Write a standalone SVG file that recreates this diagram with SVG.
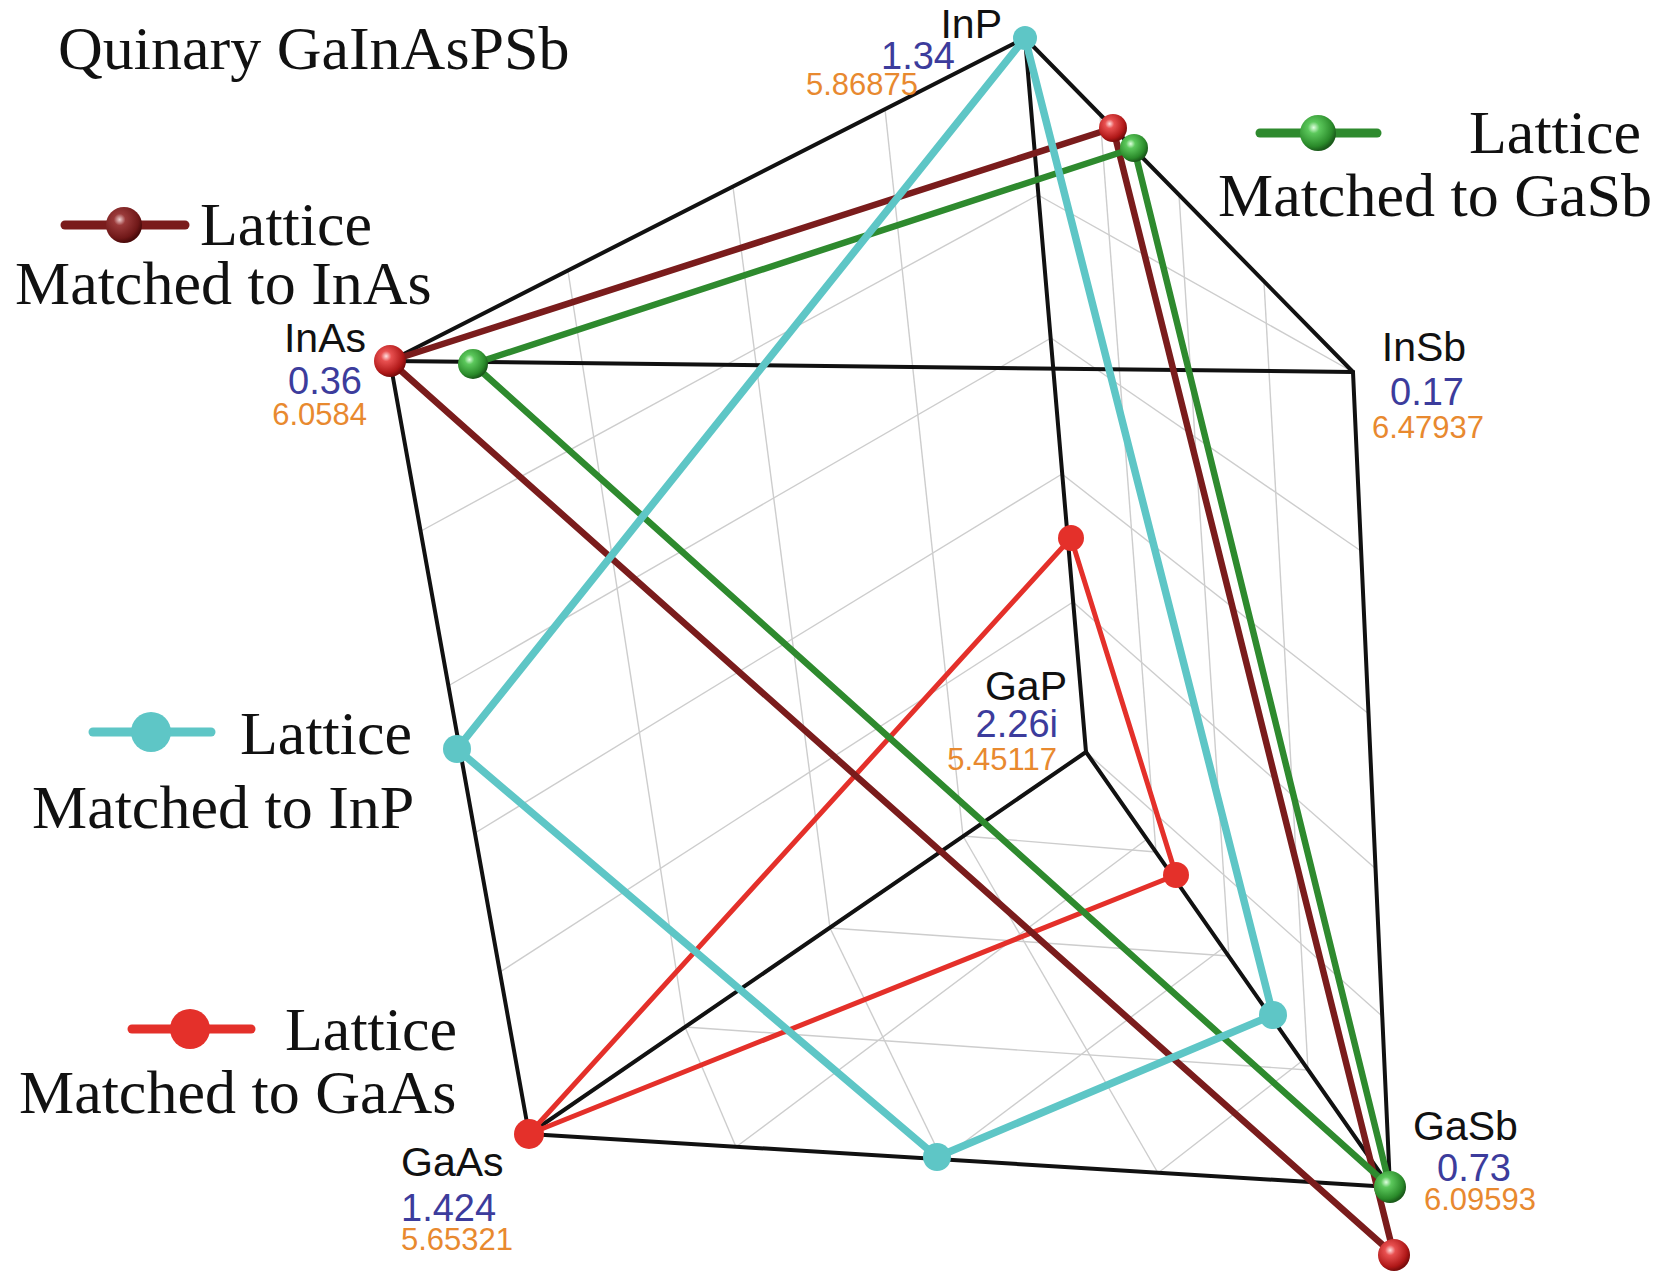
<svg xmlns="http://www.w3.org/2000/svg" width="1654" height="1280" viewBox="0 0 1654 1280">
<style>
.bg{fill:#ffffff}
.grid line{stroke:#cdcdcd;stroke-width:1.4;fill:none}
.edge{stroke:#111111;stroke-width:4;fill:none;stroke-linecap:round;stroke-linejoin:round}
.c-inas{stroke:#7a1c1c;stroke-width:6.5;fill:none;stroke-linecap:round}
.c-gasb{stroke:#2e8a2e;stroke-width:6.5;fill:none;stroke-linecap:round}
.c-inp{stroke:#5ec6c6;stroke-width:7.5;fill:none;stroke-linecap:round}
.c-gaas{stroke:#e4302a;stroke-width:5;fill:none;stroke-linecap:round}
.leg{font-family:"Liberation Serif","Times New Roman",serif;font-size:62px;fill:#111111}
.nm{font-family:"Liberation Sans",Arial,sans-serif;font-size:41px;fill:#111111}
.eg{font-family:"Liberation Sans",Arial,sans-serif;font-size:38px;fill:#3c3c9c}
.lc{font-family:"Liberation Sans",Arial,sans-serif;font-size:31px;fill:#e8892f}
</style>
<defs>
<radialGradient id="gRed" cx="0.38" cy="0.35" r="0.65">
<stop offset="0" stop-color="#ffe0e0"/>
<stop offset="0.25" stop-color="#e85050"/>
<stop offset="0.8" stop-color="#b01818"/>
<stop offset="1" stop-color="#7a0c0c"/>
</radialGradient>
<radialGradient id="gGreen" cx="0.38" cy="0.35" r="0.65">
<stop offset="0" stop-color="#e0ffe0"/>
<stop offset="0.25" stop-color="#5cc85c"/>
<stop offset="0.8" stop-color="#2a8a2a"/>
<stop offset="1" stop-color="#1a5a1a"/>
</radialGradient>
<radialGradient id="gMaroon" cx="0.38" cy="0.35" r="0.65">
<stop offset="0" stop-color="#f0d0d0"/>
<stop offset="0.25" stop-color="#9a3a3a"/>
<stop offset="0.8" stop-color="#701818"/>
<stop offset="1" stop-color="#4a0a0a"/>
</radialGradient>
</defs>
<rect class="bg" x="0" y="0" width="1654" height="1280"/>

<g id="grid" class="grid">
<line x1="568" y1="271" x2="685" y2="1027"/>
<line x1="733" y1="187" x2="830" y2="928"/>
<line x1="885" y1="109" x2="963" y2="836"/>
<line x1="421" y1="531" x2="1038" y2="195"/>
<line x1="448" y1="686" x2="1051" y2="338"/>
<line x1="475" y1="833" x2="1062" y2="474"/>
<line x1="500" y1="972" x2="1073" y2="602"/>
<line x1="1100" y1="115" x2="1156" y2="852"/>
<line x1="1179" y1="195" x2="1229" y2="956"/>
<line x1="1264" y1="282" x2="1308" y2="1070"/>
<line x1="1038" y1="195" x2="1353" y2="372"/>
<line x1="1051" y1="338" x2="1361" y2="551"/>
<line x1="1062" y1="474" x2="1369" y2="714"/>
<line x1="1073" y1="602" x2="1376" y2="869"/>
<line x1="1086" y1="752" x2="1382" y2="1016"/>
<line x1="685" y1="1027" x2="1308" y2="1070"/>
<line x1="830" y1="928" x2="1229" y2="956"/>
<line x1="963" y1="836" x2="1156" y2="852"/>
<line x1="685" y1="1027" x2="736" y2="1147"/>
<line x1="830" y1="928" x2="942" y2="1159"/>
<line x1="963" y1="836" x2="1158" y2="1173"/>
<line x1="736" y1="1147" x2="1147" y2="839"/>
<line x1="942" y1="1159" x2="1223" y2="948"/>
<line x1="1158" y1="1173" x2="1302" y2="1061"/>
</g>

<g id="connectors">
<g id="prism-edges">
<line class="edge" x1="1025" y1="38" x2="390" y2="361"/>
<line class="edge" x1="1025" y1="38" x2="1353" y2="372"/>
<line class="edge" x1="390" y1="361" x2="1353" y2="372"/>
<line class="edge" x1="1025" y1="38" x2="1086" y2="752"/>
<line class="edge" x1="390" y1="361" x2="529" y2="1134"/>
<line class="edge" x1="1353" y1="372" x2="1390" y2="1187"/>
<line class="edge" x1="1086" y1="752" x2="529" y2="1134"/>
<line class="edge" x1="1086" y1="752" x2="1390" y2="1187"/>
<line class="edge" x1="529" y1="1134" x2="1390" y2="1187"/>
</g>
<g id="lm-gaas">
<line class="c-gaas" x1="529" y1="1134" x2="1071" y2="538"/>
<line class="c-gaas" x1="1071" y1="538" x2="1176" y2="875"/>
<line class="c-gaas" x1="1176" y1="875" x2="529" y2="1134"/>
</g>
<g id="lm-inas">
<line class="c-inas" x1="390" y1="361" x2="1113" y2="128"/>
<line class="c-inas" x1="1113" y1="128" x2="1394" y2="1255"/>
<line class="c-inas" x1="390" y1="361" x2="1394" y2="1255"/>
</g>
<g id="lm-gasb">
<line class="c-gasb" x1="473" y1="364" x2="1134" y2="148"/>
<line class="c-gasb" x1="1134" y1="148" x2="1390" y2="1187"/>
<line class="c-gasb" x1="473" y1="364" x2="1390" y2="1187"/>
</g>
<g id="lm-inp">
<line class="c-inp" x1="1025" y1="38" x2="457" y2="749"/>
<line class="c-inp" x1="457" y1="749" x2="937" y2="1157"/>
<line class="c-inp" x1="937" y1="1157" x2="1273" y2="1015"/>
<line class="c-inp" x1="1273" y1="1015" x2="1025" y2="38"/>
</g>
</g>

<g id="points">
<circle cx="1071" cy="538" r="13" fill="#e4302a"/>
<circle cx="1176" cy="875" r="13" fill="#e4302a"/>
<circle cx="529" cy="1134" r="15" fill="#e4302a"/>
<circle cx="1025" cy="38" r="12" fill="#5ec6c6"/>
<circle cx="457" cy="749" r="14" fill="#5ec6c6"/>
<circle cx="937" cy="1157" r="14" fill="#5ec6c6"/>
<circle cx="1273" cy="1015" r="14" fill="#5ec6c6"/>
<circle cx="1113" cy="128" r="14" fill="url(#gRed)"/>
<circle cx="1134" cy="148" r="14" fill="url(#gGreen)"/>
<circle cx="390" cy="361" r="16" fill="url(#gRed)"/>
<circle cx="473" cy="364" r="15" fill="url(#gGreen)"/>
<circle cx="1390" cy="1187" r="16" fill="url(#gGreen)"/>
<circle cx="1394" cy="1255" r="16" fill="url(#gRed)"/>
</g>

<text id="title" class="leg" x="58" y="69">Quinary GaInAsPSb</text>

<g id="node-InP">
<text class="nm" x="1002" y="38" text-anchor="end">InP</text>
<text class="eg" x="955" y="69" text-anchor="end">1.34</text>
<text class="lc" x="806" y="95">5.86875</text>
</g>
<g id="node-InAs">
<text class="nm" x="366" y="352" text-anchor="end">InAs</text>
<text class="eg" x="362" y="394" text-anchor="end">0.36</text>
<text class="lc" x="367" y="425" text-anchor="end">6.0584</text>
</g>
<g id="node-InSb">
<text class="nm" x="1424" y="361" text-anchor="middle">InSb</text>
<text class="eg" x="1427" y="405" text-anchor="middle">0.17</text>
<text class="lc" x="1428" y="438" text-anchor="middle">6.47937</text>
</g>
<g id="node-GaP">
<text class="nm" x="1067" y="700" text-anchor="end">GaP</text>
<text class="eg" x="1058" y="737" text-anchor="end">2.26i</text>
<text class="lc" x="1057" y="770" text-anchor="end">5.45117</text>
</g>
<g id="node-GaAs">
<text class="nm" x="401" y="1176">GaAs</text>
<text class="eg" x="401" y="1221">1.424</text>
<text class="lc" x="401" y="1250">5.65321</text>
</g>
<g id="node-GaSb">
<text class="nm" x="1413" y="1140">GaSb</text>
<text class="eg" x="1437" y="1181">0.73</text>
<text class="lc" x="1424" y="1210">6.09593</text>
</g>

<g id="legend-InAs">
<line x1="65" y1="225" x2="185" y2="225" stroke="#7a1c1c" stroke-width="9" stroke-linecap="round"/>
<circle cx="124" cy="225" r="18" fill="url(#gMaroon)"/>
<text class="leg" x="200" y="245">Lattice</text>
<text class="leg" x="15" y="304">Matched to InAs</text>
</g>
<g id="legend-GaSb">
<line x1="1260" y1="133" x2="1377" y2="133" stroke="#2e8a2e" stroke-width="9" stroke-linecap="round"/>
<circle cx="1318" cy="133" r="18" fill="url(#gGreen)"/>
<text class="leg" x="1469" y="153">Lattice</text>
<text class="leg" x="1218" y="216">Matched to GaSb</text>
</g>
<g id="legend-InP">
<line x1="93" y1="732" x2="211" y2="732" stroke="#5ec6c6" stroke-width="9" stroke-linecap="round"/>
<circle cx="151" cy="732" r="20" fill="#5ec6c6"/>
<text class="leg" x="240" y="754">Lattice</text>
<text class="leg" x="32" y="828">Matched to InP</text>
</g>
<g id="legend-GaAs">
<line x1="132" y1="1029" x2="251" y2="1029" stroke="#e4302a" stroke-width="9" stroke-linecap="round"/>
<circle cx="190" cy="1029" r="20" fill="#e4302a"/>
<text class="leg" x="285" y="1050">Lattice</text>
<text class="leg" x="19" y="1113">Matched to GaAs</text>
</g>
</svg>
